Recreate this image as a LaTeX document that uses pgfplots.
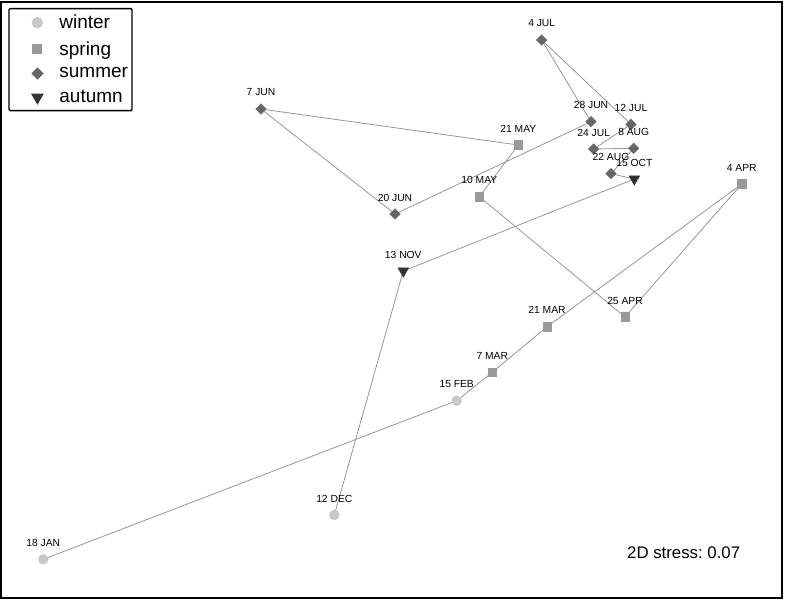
\documentclass[border=0pt]{standalone}
\usepackage{pgfplots}
\pgfplotsset{compat=1.18}
\usepackage{pgfplotstable}
\usepackage{fontspec}
\setmainfont{Liberation Sans}

\definecolor{cwinter}{HTML}{C8C8C8}
\definecolor{cspring}{HTML}{999999}
\definecolor{csummer}{HTML}{666666}
\definecolor{cautumn}{HTML}{333333}

% NMDS scores (in picture units)
\pgfplotstableread{
x y label
43.3 40.7 {18 JAN}
456.7 199.3 {15 FEB}
492.3 227.7 {7 MAR}
547 273.3 {21 MAR}
741.7 416 {4 APR}
625 283 {25 APR}
479.3 403.3 {10 MAY}
518.3 455 {21 MAY}
261 491 {7 JUN}
395 386 {20 JUN}
591 478.3 {28 JUN}
541.7 560 {4 JUL}
631 475.7 {12 JUL}
593.7 451 {24 JUL}
633.7 451.7 {8 AUG}
611 426.3 {22 AUG}
634.3 421 {15 OCT}
403.3 329 {13 NOV}
334.3 85 {12 DEC}
}\path

\pgfplotstableread{
x y label
43.3 40.7 {18 JAN}
456.7 199.3 {15 FEB}
334.3 85 {12 DEC}
}\winter
\pgfplotstableread{
x y label
492.3 227.7 {7 MAR}
547 273.3 {21 MAR}
741.7 416 {4 APR}
625 283 {25 APR}
479.3 403.3 {10 MAY}
518.3 455 {21 MAY}
}\spring
\pgfplotstableread{
x y label
261 491 {7 JUN}
395 386 {20 JUN}
591 478.3 {28 JUN}
541.7 560 {4 JUL}
631 475.7 {12 JUL}
593.7 451 {24 JUL}
633.7 451.7 {8 AUG}
611 426.3 {22 AUG}
}\summer
\pgfplotstableread{
x y label
634.3 421 {15 OCT}
403.3 329 {13 NOV}
}\autumn

\pgfplotsset{
    seasonmark/.style={only marks, nodes near coords, point meta=explicit symbolic,
        legend image code/.code={\path (0pt,0pt) (45pt,0pt);
            \draw[##1] plot coordinates {(25.7pt,0pt)};}},
}

\begin{document}
\begin{tikzpicture}
\useasboundingbox (-1pt,-2pt) rectangle (784pt,598pt);
\begin{axis}[
    scale only axis,
    width=781pt, height=596pt,
    xmin=1, xmax=782, ymin=2, ymax=598,
    ticks=none,
    axis line style={line width=2pt},
    clip=false,
    legend style={at={(0.0095,0.99)}, anchor=north west,
        draw=black, line width=1.3pt, rounded corners=1pt,
        font=\fontsize{19}{22}\selectfont,
        inner xsep=2pt, inner ysep=4.5pt,
        row sep=7pt,
        nodes={inner xsep=2pt}},
    legend cell align=left,
    nodes near coords style={font=\fontsize{10.3}{12}\selectfont, anchor=center, yshift=16.5pt, text=black},
]
\addplot[color=cspring!90!gray, line width=0.8pt, forget plot] table[x=x,y=y] {\path};

\addplot[seasonmark, mark=*, mark size=5pt, color=cwinter]
    table[x=x,y=y,meta=label] {\winter};
\addlegendentry{winter}
\addplot[seasonmark, mark=square*, mark size=4.3pt, color=cspring]
    table[x=x,y=y,meta=label] {\spring};
\addlegendentry{spring}
\addplot[seasonmark, mark=square*, mark size=3.7pt, color=csummer,
    mark options={rotate=45}]
    table[x=x,y=y,meta=label] {\summer};
\addlegendentry{summer}
\addplot[seasonmark, mark=triangle*, mark size=6.2pt, color=cautumn,
    mark options={rotate=180}]
    table[x=x,y=y,meta=label] {\autumn};
\addlegendentry{autumn}

\node[anchor=west, font=\fontsize{16.8}{20}\selectfont, inner sep=0pt]
    at (axis cs:627,47) {2D stress:\ 0.07};
\end{axis}
\end{tikzpicture}
\end{document}
